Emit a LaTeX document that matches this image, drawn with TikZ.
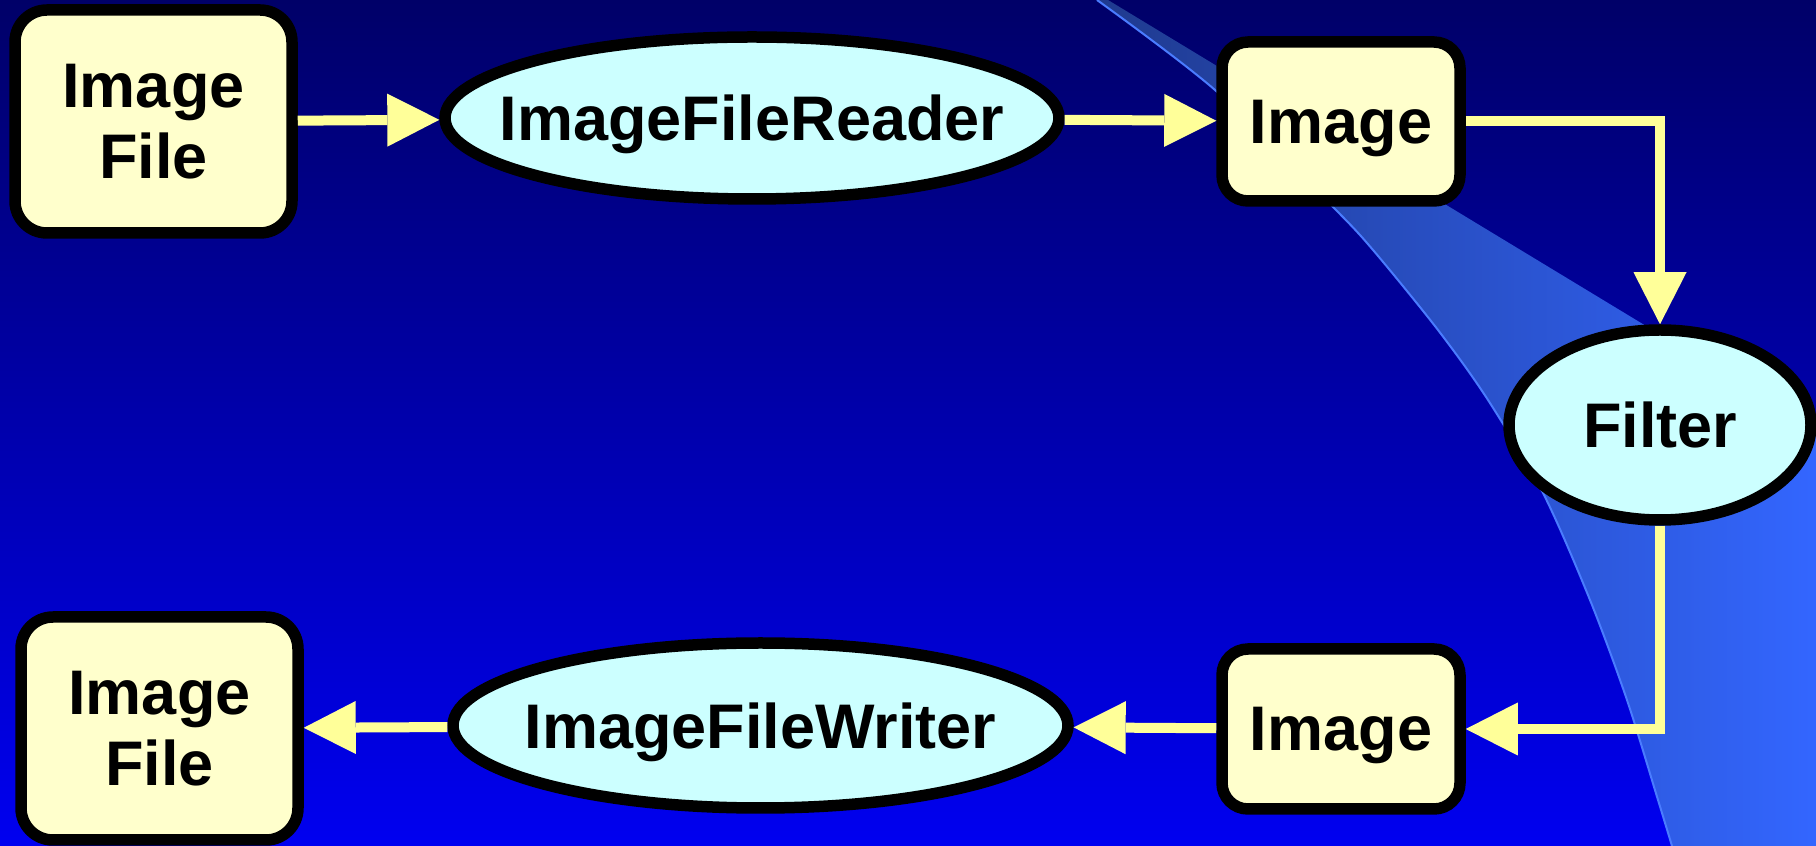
\documentclass[tikz,border=0pt]{standalone}
\usepackage{fontspec}
\setmainfont{Liberation Sans}
\usetikzlibrary{arrows.meta,shapes.geometric}

\definecolor{bgtop}{HTML}{000068}
\definecolor{bgmid}{HTML}{0000AC}
\definecolor{bgbot}{HTML}{0000F0}
\definecolor{swA}{HTML}{1F3A8E}
\definecolor{swB}{HTML}{2E5ADC}
\definecolor{swC}{HTML}{3366FF}
\definecolor{swedge}{HTML}{4A7CFF}
\definecolor{boxfill}{HTML}{FFFFCC}
\definecolor{ellfill}{HTML}{CCFFFF}
\definecolor{flowcol}{HTML}{FFFF99}

\begin{document}
\begin{tikzpicture}[x=1pt,y=1pt,
  label font/.style={font=\fontsize{63}{71}\selectfont\bfseries, text=black},
  roundbox/.style={rectangle, draw=black, line width=11.5pt, fill=boxfill,
    rounded corners=#1, inner sep=0pt, align=center, text depth=0pt, label font},
  ellnode/.style={ellipse, draw=black, line width=11.5pt, fill=ellfill,
    inner sep=0pt, text depth=0pt, label font},
  flow/.style={draw=flowcol, line width=10pt, line join=miter,
    -{Triangle[length=52pt,width=53pt,line width=0pt]}}]

\useasboundingbox (0,0) rectangle (1816,846);

% background gradient
\shade[top color=bgtop, middle color=bgmid, bottom color=bgbot] (0,0) rectangle (1816,846);

% lighter sweeping band on the right
\shade[left color=swA, middle color=swB, right color=swC]
  (1108,846) -- (1097,846)
  -- plot[smooth, tension=0.5] coordinates {(1097,846) (1215,756) (1333,639) (1373,596) (1438,516) (1488,446) (1543,353) (1590,246) (1627,146) (1658,46) (1672,0)}
  -- (1816,0) -- (1816,417) -- cycle;
\draw[swedge, line width=2pt]
  plot[smooth, tension=0.5] coordinates {(1097,846) (1215,756) (1333,639) (1373,596) (1438,516) (1488,446) (1543,353) (1590,246) (1627,146) (1658,46) (1672,0)};

% pipeline stages
\node[roundbox=32pt, minimum width=277pt, minimum height=223pt] (srcfile) at (153.5,724.5) {Image\\File};
\node[ellnode, minimum width=614pt, minimum height=162pt] (reader) at (752,728) {\makebox[0pt]{ImageFileReader}};
\node[roundbox=26pt, minimum width=238pt, minimum height=159pt] (imgin) at (1341,724.5) {Image};
\node[ellnode, minimum width=302pt, minimum height=190pt] (filter) at (1660,421) {Filter};
\node[roundbox=26pt, minimum width=238pt, minimum height=160pt] (imgout) at (1341,117) {Image};
\node[ellnode, minimum width=615pt, minimum height=165pt] (writer) at (760.5,120.5) {\makebox[0pt]{ImageFileWriter}};
\node[roundbox=32pt, minimum width=277pt, minimum height=223pt] (dstfile) at (159.5,117.5) {Image\\File};

% data flow
\draw[flow] (srcfile) -- (reader);
\draw[flow] (reader) -- (imgin);
\draw[flow] (imgin.east) -| (filter.north);
\draw[flow] (filter.south) |- (imgout.east);
\draw[flow] (imgout) -- (writer);
\draw[flow] (writer) -- (dstfile);

\end{tikzpicture}
\end{document}
